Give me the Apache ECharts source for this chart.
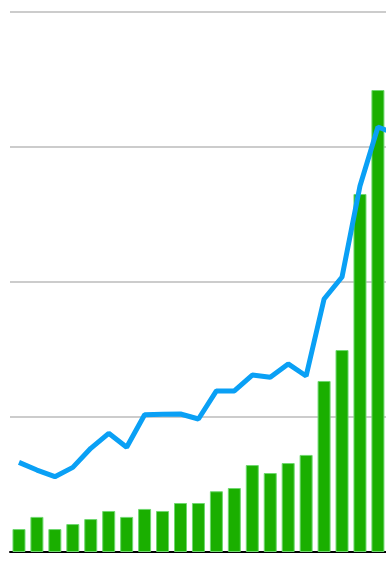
<!DOCTYPE html>
<html>
<head>
<meta charset="utf-8">
<script src="https://cdn.jsdelivr.net/npm/echarts@6/dist/echarts.min.js"></script>
<style>html,body{margin:0;padding:0;background:#fff;}#c{width:386px;height:563px;}</style>
</head>
<body>
<div id="c"></div>
<script>
var categories = ['1','2','3','4','5','6','7','8','9','10','11','12','13','14','15','16','17','18','19','20','21','22'];
var barValues = [17, 26, 17, 20.7, 24.4, 30.4, 26, 31.9, 30.4, 36.3, 36.3, 45, 47.4, 64.4, 58.5, 65.9, 71.9, 126.7, 149.6, 265.2, 342.2, null];
var lineValues = [66.4, 60.7, 55.8, 62.7, 76.8, 87.9, 77.6, 101.7, 102, 102.2, 98.5, 119.3, 119.3, 131.1, 129.4, 139.3, 130.4, 187.4, 203.7, 271.1, 314.8, 309.6];
var yTicks = [0, 100, 200, 300, 400];

var barData = categories.map(function (c, i) { return [i, barValues[i]]; });
var lineData = categories.map(function (c, i) { return [i, lineValues[i]]; });

var chart = echarts.init(document.getElementById('c'));
chart.setOption({
  animation: false,
  grid: { left: 10, right: 0, top: 12, bottom: 11, containLabel: false },
  xAxis: {
    type: 'value',
    min: -0.5,
    max: 20.45,
    axisLine: { show: true, onZero: true, lineStyle: { color: '#000', width: 2 } },
    axisTick: { show: false },
    axisLabel: { show: false },
    splitLine: { show: false }
  },
  yAxis: {
    type: 'value',
    min: yTicks[0],
    max: yTicks[yTicks.length - 1],
    interval: 100,
    axisLine: { show: false },
    axisTick: { show: false },
    axisLabel: { show: false },
    splitLine: { show: true, lineStyle: { color: '#bbbbbb', width: 1.5 } }
  },
  series: [
    {
      type: 'bar',
      data: barData,
      barWidth: 13,
      itemStyle: { color: '#1aaf00', borderColor: '#6fd86f', borderWidth: 1 }
    },
    {
      type: 'line',
      data: lineData,
      showSymbol: false,
      symbol: 'none',
      clip: true,
      lineStyle: { color: '#0aa0f5', width: 5 },
      z: 3
    }
  ]
});
</script>
</body>
</html>
